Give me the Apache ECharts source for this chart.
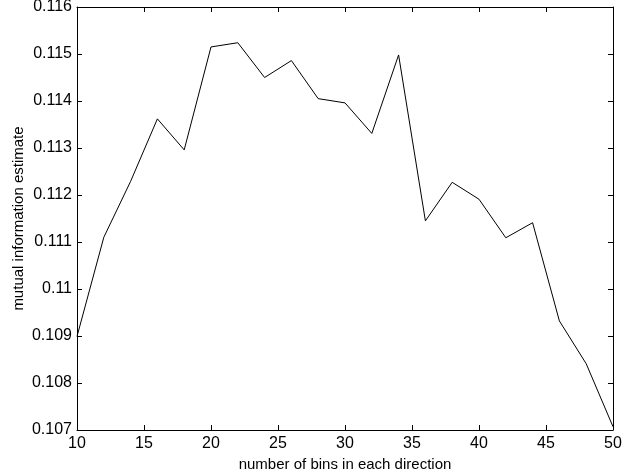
<!DOCTYPE html>
<html>
<head>
<meta charset="utf-8">
<script src="https://cdn.jsdelivr.net/npm/echarts@6/dist/echarts.min.js"></script>
<style>
html, body { margin: 0; padding: 0; background: #fff; }
#chart { width: 623px; height: 473px; }
</style>
</head>
<body>
<div id="chart"></div>
<script>
// 数据
var bins = [10, 12, 14, 16, 18, 20, 22, 24, 26, 28, 30, 32, 34, 36, 38, 40, 42, 44, 46, 48, 50];
var miEstimate = [0.10899, 0.11110, 0.11229, 0.11362, 0.11296, 0.11515, 0.11524, 0.11450, 0.11486, 0.11405,
                  0.11396, 0.11331, 0.11498, 0.11145, 0.11227, 0.11191, 0.11109, 0.11141, 0.10932, 0.10841, 0.10707];
var xTicks = [10, 15, 20, 25, 30, 35, 40, 45, 50];

var myChart = echarts.init(document.getElementById('chart'));
var font = 'Liberation Sans, Arial, sans-serif';
var boxLine = { show: true, lineStyle: { color: '#000', width: 1 } };
var inTick = { show: true, inside: true, length: 5, lineStyle: { color: '#000', width: 1 } };

var option = {
    animation: false,
    grid: { left: 77, right: 10, top: 7, bottom: 43, containLabel: false, outerBoundsMode: 'none' },
    xAxis: [{
        type: 'value',
        min: 10, max: 50, interval: 5,
        axisLine: boxLine,
        axisTick: inTick,
        splitLine: { show: false },
        axisLabel: {
            color: '#000', fontFamily: font, fontSize: 16, margin: 6,
            formatter: function (v) { return xTicks.indexOf(v) >= 0 ? String(v) : ''; }
        },
        name: 'number of bins in each direction',
        nameLocation: 'middle',
        nameGap: 24,
        nameTextStyle: { color: '#000', fontFamily: font, fontSize: 15 }
    }, {
        type: 'value', position: 'top',
        min: 10, max: 50, interval: 5,
        axisLine: boxLine, axisTick: inTick,
        axisLabel: { show: false }, splitLine: { show: false }
    }],
    yAxis: [{
        type: 'value',
        min: 0.107, max: 0.116, interval: 0.001,
        axisLine: boxLine,
        axisTick: inTick,
        splitLine: { show: false },
        axisLabel: {
            color: '#000', fontFamily: font, fontSize: 16, margin: 5,
            formatter: function (v) { return String(parseFloat(v.toFixed(3))); }
        },
        name: 'mutual information estimate',
        nameLocation: 'middle',
        nameGap: 51,
        nameMoveOverlap: false,
        nameTextStyle: { color: '#000', fontFamily: font, fontSize: 15 }
    }, {
        type: 'value', position: 'right',
        min: 0.107, max: 0.116, interval: 0.001,
        axisLine: boxLine, axisTick: inTick,
        axisLabel: { show: false }, splitLine: { show: false }
    }],
    series: [{
        type: 'line',
        data: bins.map(function (b, i) { return [b, miEstimate[i]]; }),
        symbol: 'none',
        lineStyle: { color: '#000', width: 1 }
    }]
};
myChart.setOption(option);
</script>
</body>
</html>
